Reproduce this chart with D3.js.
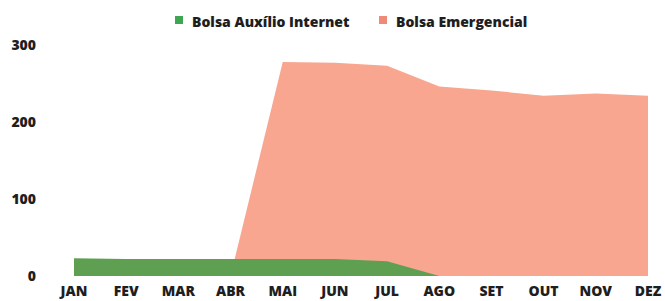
<!DOCTYPE html>
<html>
<head>
<meta charset="utf-8">
<script src="https://cdn.jsdelivr.net/npm/d3@7"></script>
<style>
  body { margin: 0; background: #fff; }
  svg text { font-family: "Open Sans", sans-serif; font-weight: 800; fill: #1e1e1e; }
</style>
</head>
<body>
<svg id="chart" width="665" height="301"></svg>
<script>
var months = ["JAN","FEV","MAR","ABR","MAI","JUN","JUL","AGO","SET","OUT","NOV","DEZ"]
var internet = [23, 22, 22, 22, 22, 22, 19, 0, 0, 0, 0, 0]
var emergencial = [0, 0, 0, 0, 278, 277, 273, 246, 241, 234, 237, 234]
var seriesNames = ["Bolsa Auxílio Internet", "Bolsa Emergencial"]
var yTicks = [0, 100, 200, 300]

var svg = d3.select("#chart")
var margin = {top: 45, right: 15, bottom: 24, left: 74}
var width = 665 - margin.left - margin.right
var height = 301 - margin.top - margin.bottom

var x = d3.scalePoint().domain(months).range([0, width - 2])
var y = d3.scaleLinear().domain([0, 300]).range([height - 1, 0])

var g = svg.append("g").attr("transform", "translate(" + margin.left + "," + margin.top + ")")

var area = d3.area()
  .x((d, i) => x(months[i]))
  .y0(y(0))
  .y1(d => y(d))

// pink behind, green on top
g.append("path")
  .datum(emergencial)
  .attr("d", area)
  .style("fill", "#f8a68f")

g.append("path")
  .datum(internet)
  .attr("d", area)
  .style("fill", "#5e9f52")

// y axis labels
g.selectAll(".ytick")
  .data(yTicks)
  .enter().append("text")
  .attr("class", "ytick")
  .attr("x", -38)
  .attr("y", d => y(d))
  .attr("dy", "0.35em")
  .attr("text-anchor", "end")
  .style("font-size", "14px")
  .text(d => d)

// x axis labels
g.selectAll(".xtick")
  .data(months)
  .enter().append("text")
  .attr("class", "xtick")
  .attr("x", d => x(d))
  .attr("y", height + 19)
  .attr("text-anchor", "middle")
  .style("font-size", "14px")
  .text(d => d)

// legend
var legend = svg.append("g")
var legendX = [175, 379]
var legendColors = ["#3ea552", "#f08a78"]
seriesNames.forEach((name, i) => {
  legend.append("rect")
    .attr("x", legendX[i])
    .attr("y", 16)
    .attr("width", 8)
    .attr("height", 8)
    .style("fill", legendColors[i])
  legend.append("text")
    .attr("x", legendX[i] + 17)
    .attr("y", 27)
    .style("font-size", "14px")
    .text(name)
})
</script>
</body>
</html>
